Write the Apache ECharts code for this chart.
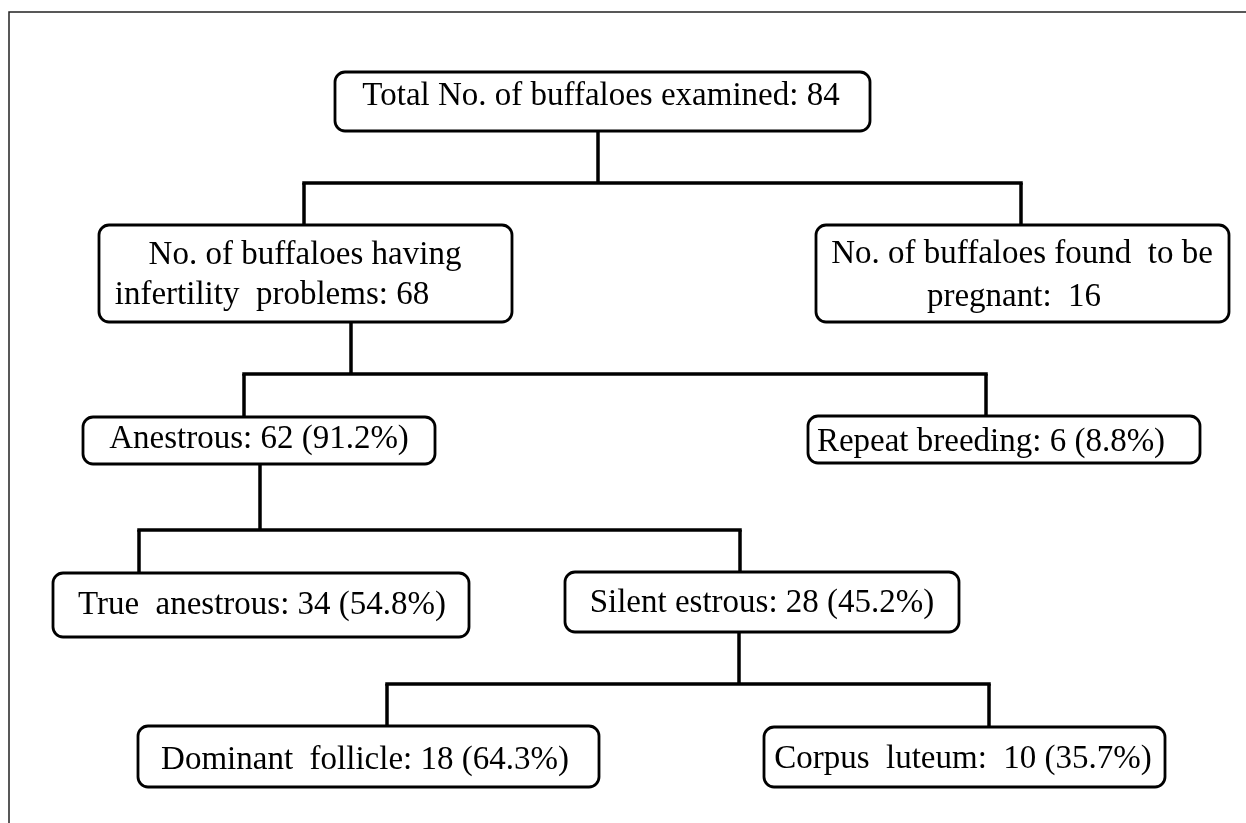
<!DOCTYPE html>
<html>
<head>
<meta charset="utf-8">
<script src="https://cdn.jsdelivr.net/npm/echarts@6/dist/echarts.min.js"></script>
<style>
  html, body { margin: 0; padding: 0; background: #fff; }
  #chart { width: 1246px; height: 823px; }
</style>
</head>
<body>
<div id="chart"></div>
<script>
// flowchart data: what each box says and how the boxes hang together
const nodeTitles = [
  "Total No. of buffaloes examined:",
  "No. of buffaloes having\ninfertility  problems:",
  "No. of buffaloes found  to be\npregnant: ",
  "Anestrous:",
  "Repeat breeding:",
  "True  anestrous:",
  "Silent estrous:",
  "Dominant  follicle:",
  "Corpus  luteum: "
];
const nodeCounts = [84, 68, 16, 62, 6, 34, 28, 18, 10];
const nodeShares = [null, null, null, 91.2, 8.8, 54.8, 45.2, 64.3, 35.7];
const nodeParents = [-1, 0, 0, 1, 1, 3, 3, 6, 6];

// layout (axis units = page px)
const boxLeft = [335, 99, 816, 83, 808, 53, 565, 138, 764];
const boxRight = [870, 512, 1229, 435, 1200, 469, 959, 599, 1165];
const boxTop = [72, 225, 225, 417, 416, 573, 572, 726, 727];
const boxBottom = [131, 322, 322, 464, 463, 637, 632, 787, 787];
const dropX = [null, 304, 1021, 244, 986, 139, 740, 387, 989];
const stemX = [598, 351, null, 260, null, null, 739, null, null];
const busY = [183, 374, null, 530, null, null, 684, null, null];
const textX = [[601], [305, 272], [1022, 1014], [259], [991], [262], [762], [365], [963]];
const textY = [[96], [255, 295], [254, 297], [439], [442], [605], [603], [760], [759]];

function nodeText(i) {
  let s = nodeTitles[i] + " " + nodeCounts[i];
  if (nodeShares[i] != null) s += " (" + nodeShares[i].toFixed(1) + "%)";
  return s.split("\n");
}

const FONT = '33px "Liberation Serif", "Times New Roman", serif';

let mychart = echarts.init(document.getElementById("chart"));

const boxData = nodeTitles.map((t, i) => [boxLeft[i], boxTop[i], boxRight[i], boxBottom[i], i]);
const parentIdx = nodeParents.filter((p, i, a) => p >= 0 && a.indexOf(p) === i);
const linkData = parentIdx.map(p => [stemX[p], busY[p], p]);

mychart.setOption({
  animation: false,
  backgroundColor: "#fff",
  grid: { left: 0, right: 0, top: 0, bottom: 0 },
  xAxis: { type: "value", min: 0, max: 1246, show: false },
  yAxis: { type: "value", min: 0, max: 823, inverse: true, show: false },
  graphic: [
    {
      // outer frame, only top and left edges are in view
      type: "rect",
      shape: { x: 9, y: 12, width: 1400, height: 1000 },
      style: { fill: null, stroke: "#222", lineWidth: 1.5 },
      silent: true
    }
  ],
  series: [
    {
      name: "connectors",
      type: "custom",
      clip: false,
      data: linkData,
      encode: { x: 0, y: 1 },
      renderItem(params, api) {
        const p = api.value(2);
        const kids = nodeParents.map((q, i) => (q === p ? i : -1)).filter(i => i >= 0);
        const top = api.coord([stemX[p], boxBottom[p]]);
        const bus = api.coord([stemX[p], busY[p]]);
        const xs = [bus[0]];
        const children = [];
        kids.forEach(k => {
          const a = api.coord([dropX[k], busY[p]]);
          const b = api.coord([dropX[k], boxTop[k]]);
          xs.push(a[0]);
          children.push({
            type: "line",
            shape: { x1: a[0], y1: a[1], x2: b[0], y2: b[1] },
            style: { stroke: "#000", lineWidth: 3.5 }
          });
        });
        children.push({
          type: "line",
          shape: { x1: top[0], y1: top[1], x2: bus[0], y2: bus[1] },
          style: { stroke: "#000", lineWidth: 3.5 }
        });
        children.push({
          type: "line",
          shape: { x1: Math.min(...xs) - 1.75, y1: bus[1], x2: Math.max(...xs) + 1.75, y2: bus[1] },
          style: { stroke: "#000", lineWidth: 3.5 }
        });
        return { type: "group", children: children };
      }
    },
    {
      name: "boxes",
      type: "custom",
      clip: false,
      data: boxData,
      encode: { x: [0, 2], y: [1, 3] },
      renderItem(params, api) {
        const i = api.value(4);
        const p0 = api.coord([api.value(0), api.value(1)]);
        const p1 = api.coord([api.value(2), api.value(3)]);
        const children = [
          {
            type: "rect",
            shape: { x: p0[0], y: p0[1], width: p1[0] - p0[0], height: p1[1] - p0[1], r: 10 },
            style: { fill: "#fff", stroke: "#000", lineWidth: 2.8 }
          }
        ];
        nodeText(i).forEach((line, j) => {
          const c = api.coord([textX[i][j], textY[i][j]]);
          children.push({
            type: "text",
            style: {
              x: c[0],
              y: c[1],
              text: line,
              font: FONT,
              fill: "#000",
              align: "center",
              verticalAlign: "middle"
            }
          });
        });
        return { type: "group", children: children };
      }
    }
  ]
});
window.addEventListener("resize", () => {
  mychart.resize();
});
</script>
</body>
</html>
